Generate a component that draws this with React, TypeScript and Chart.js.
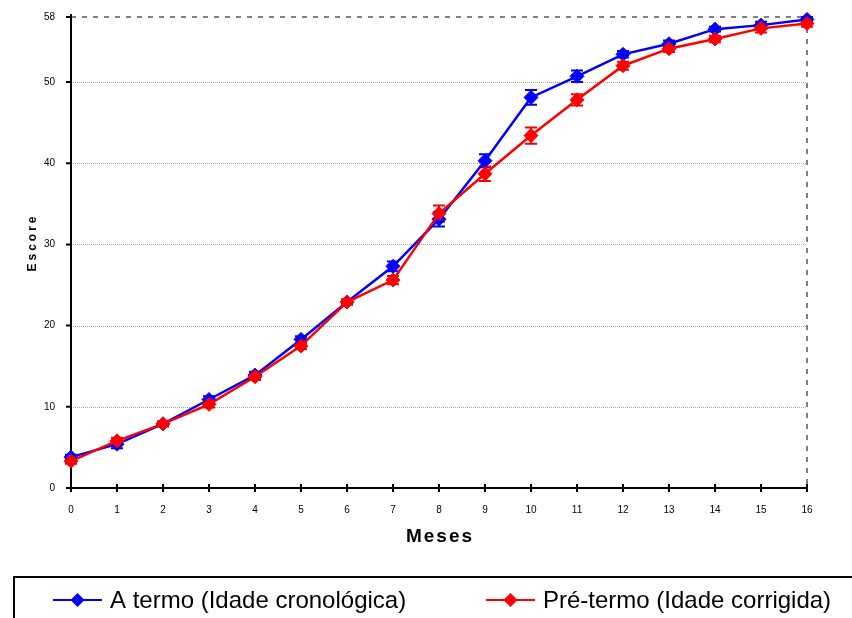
import React, { useEffect, useRef } from "react";
import { Chart, registerables } from "chart.js";

Chart.register(...registerables);

const months = [0, 1, 2, 3, 4, 5, 6, 7, 8, 9, 10, 11, 12, 13, 14, 15, 16];
const aTermo = [3.8, 5.4, 7.9, 10.9, 13.9, 18.3, 22.9, 27.3, 33.1, 40.3, 48.1, 50.7, 53.4, 54.7, 56.5, 57.0, 57.7];
const aTermoErr = [0.3, 0.5, 0.3, 0.4, 0.4, 0.4, 0.3, 0.6, 0.9, 0.8, 0.9, 0.7, 0.4, 0.4, 0.3, 0.4, 0.3];
const preTermo = [3.3, 5.8, 7.9, 10.3, 13.7, 17.5, 22.9, 25.6, 33.8, 38.7, 43.4, 47.8, 52.0, 54.1, 55.3, 56.6, 57.2];
const preTermoErr = [0.3, 0.4, 0.3, 0.4, 0.4, 0.4, 0.3, 0.5, 1.0, 0.9, 1.0, 0.7, 0.5, 0.4, 0.4, 0.5, 0.4];
const yTickValues = [0, 10, 20, 30, 40, 50, 58];
const seriesNames = ["A termo (Idade cronológica)", "Pré-termo (Idade corrigida)"];
const xTitle = "Meses";
const yTitle = "Escore";

const BLUE = "#0000ff";
const RED = "#ff0000";
const FONT = '"Liberation Sans", Arial, sans-serif';

// Grid, axis lines, ticks and error bars, all placed through the chart scales.
const framePlugin = {
  id: "frame",
  beforeDatasetsDraw(chart: any) {
    const { ctx, chartArea } = chart;
    const x = chart.scales.x;
    const y = chart.scales.y;
    const left = chartArea.left;
    const right = chartArea.right;
    const bottom = chartArea.bottom;
    const yMax = y.getPixelForValue(58);
    const xMax = x.getPixelForValue(16);
    ctx.save();

    // dotted horizontal grid lines
    ctx.strokeStyle = "#a8a8a8";
    ctx.lineWidth = 1;
    ctx.setLineDash([1, 1]);
    for (const v of yTickValues) {
      if (v === 0 || v === 58) continue;
      const py = Math.round(y.getPixelForValue(v)) + 0.5;
      ctx.beginPath();
      ctx.moveTo(left, py);
      ctx.lineTo(right, py);
      ctx.stroke();
    }

    // dashed upper and right borders
    ctx.strokeStyle = "#808080";
    ctx.lineWidth = 2;
    ctx.setLineDash([5, 6]);
    ctx.beginPath();
    ctx.moveTo(left, yMax);
    ctx.lineTo(xMax, yMax);
    ctx.moveTo(xMax, yMax);
    ctx.lineTo(xMax, bottom);
    ctx.stroke();
    ctx.setLineDash([]);

    // axis lines
    ctx.strokeStyle = "#000";
    ctx.lineWidth = 2;
    ctx.beginPath();
    ctx.moveTo(left, yMax - 3);
    ctx.lineTo(left, bottom);
    ctx.moveTo(left, bottom);
    ctx.lineTo(xMax + 1, bottom);
    ctx.stroke();

    // y ticks (outside)
    ctx.beginPath();
    for (const v of yTickValues) {
      const py = y.getPixelForValue(v);
      ctx.moveTo(left - 5, py);
      ctx.lineTo(left, py);
    }
    // x ticks (cross)
    for (const m of months) {
      const px = x.getPixelForValue(m);
      ctx.moveTo(px, bottom - 4);
      ctx.lineTo(px, bottom + 4);
    }
    ctx.stroke();

    // error bars
    const drawErr = (vals: number[], errs: number[], color: string) => {
      ctx.strokeStyle = color;
      ctx.lineWidth = 2;
      ctx.beginPath();
      vals.forEach((v, i) => {
        const px = x.getPixelForValue(months[i]);
        const top = y.getPixelForValue(v + errs[i]);
        const bot = y.getPixelForValue(v - errs[i]);
        ctx.moveTo(px, top);
        ctx.lineTo(px, bot);
        ctx.moveTo(px - 6, top);
        ctx.lineTo(px + 6, top);
        ctx.moveTo(px - 6, bot);
        ctx.lineTo(px + 6, bot);
      });
      ctx.stroke();
    };
    drawErr(aTermo, aTermoErr, BLUE);
    drawErr(preTermo, preTermoErr, RED);
    ctx.restore();
  },
  afterDraw(chart: any) {
    const { ctx, chartArea } = chart;
    ctx.save();
    ctx.fillStyle = "#000";

    // x axis title
    ctx.font = `bold 19px ${FONT}`;
    (ctx as any).letterSpacing = "2px";
    ctx.textAlign = "center";
    ctx.textBaseline = "middle";
    ctx.fillText(xTitle, (chartArea.left + chartArea.right) / 2 + 1, 537);

    // y axis title
    ctx.save();
    ctx.translate(33, (chartArea.top + chartArea.bottom) / 2 - 10);
    ctx.rotate(-Math.PI / 2);
    ctx.font = `bold 12px ${FONT}`;
    (ctx as any).letterSpacing = "3px";
    ctx.fillText(yTitle, 0, 0);
    ctx.restore();
    (ctx as any).letterSpacing = "0px";

    // legend box
    ctx.strokeStyle = "#000";
    ctx.lineWidth = 2;
    ctx.strokeRect(14, 577, 900, 100);

    const drawItem = (x0: number, color: string, label: string) => {
      const cy = 600;
      ctx.strokeStyle = color;
      ctx.lineWidth = 2;
      ctx.beginPath();
      ctx.moveTo(x0, cy);
      ctx.lineTo(x0 + 49, cy);
      ctx.stroke();
      ctx.fillStyle = color;
      ctx.beginPath();
      ctx.moveTo(x0 + 24.5 - 7, cy);
      ctx.lineTo(x0 + 24.5, cy - 7);
      ctx.lineTo(x0 + 24.5 + 7, cy);
      ctx.lineTo(x0 + 24.5, cy + 7);
      ctx.closePath();
      ctx.fill();
      ctx.fillStyle = "#000";
      ctx.font = `24px ${FONT}`;
      ctx.textAlign = "left";
      ctx.textBaseline = "middle";
      ctx.fillText(label, x0 + 57, cy + 1);
    };
    drawItem(53, BLUE, seriesNames[0]);
    drawItem(486, RED, seriesNames[1]);
    ctx.restore();
  },
};

const whiteBg = {
  id: "whiteBg",
  beforeDraw(chart: any) {
    const { ctx, width, height } = chart;
    ctx.save();
    ctx.fillStyle = "#fff";
    ctx.fillRect(0, 0, width, height);
    ctx.restore();
  },
};

export default function App() {
  const canvasRef = useRef<HTMLCanvasElement | null>(null);

  useEffect(() => {
    document.body.style.margin = "0";
    const canvas = canvasRef.current;
    if (!canvas) return;
    const toPoints = (vals: number[]) => vals.map((v, i) => ({ x: months[i], y: v }));
    const chart = new Chart(canvas, {
      type: "line",
      data: {
        datasets: [
          {
            label: seriesNames[0],
            data: toPoints(aTermo),
            borderColor: BLUE,
            backgroundColor: BLUE,
            borderWidth: 2.5,
            pointStyle: "rectRot",
            pointRadius: 7,
            pointBorderWidth: 1,
            pointBackgroundColor: BLUE,
            pointBorderColor: BLUE,
            tension: 0,
            clip: false,
            order: 1,
          },
          {
            label: seriesNames[1],
            data: toPoints(preTermo),
            borderColor: RED,
            backgroundColor: RED,
            borderWidth: 2.5,
            pointStyle: "rectRot",
            pointRadius: 7,
            pointBorderWidth: 1,
            pointBackgroundColor: RED,
            pointBorderColor: RED,
            tension: 0,
            clip: false,
            order: 0,
          },
        ],
      },
      options: {
        animation: false,
        responsive: false,
        maintainAspectRatio: false,
        layout: { padding: { left: 0, right: 45, top: 17, bottom: 90 } },
        plugins: {
          legend: { display: false },
          tooltip: { enabled: false },
          title: { display: false },
        },
        scales: {
          x: {
            type: "linear",
            min: 0,
            max: 16,
            grid: { display: false },
            border: { display: false },
            ticks: {
              stepSize: 1,
              color: "#000",
              padding: 8,
              maxRotation: 0,
              font: { family: FONT, size: 10 },
            },
            afterFit: (scale: any) => {
              scale.height = 40;
            },
          },
          y: {
            type: "linear",
            min: 0,
            max: 58,
            grid: { display: false },
            border: { display: false },
            ticks: {
              color: "#000",
              padding: 8,
              font: { family: FONT, size: 10 },
            },
            afterBuildTicks: (scale: any) => {
              scale.ticks = yTickValues.map((v) => ({ value: v }));
            },
            afterFit: (scale: any) => {
              scale.width = 71;
            },
          },
        },
      },
      plugins: [whiteBg, framePlugin],
    } as any);
    return () => chart.destroy();
  }, []);

  return (
    <div style={{ position: "fixed", left: 0, top: 0, width: 852, height: 618 }}>
      <canvas ref={canvasRef} width={852} height={618} style={{ display: "block", width: 852, height: 618 }} />
    </div>
  );
}
